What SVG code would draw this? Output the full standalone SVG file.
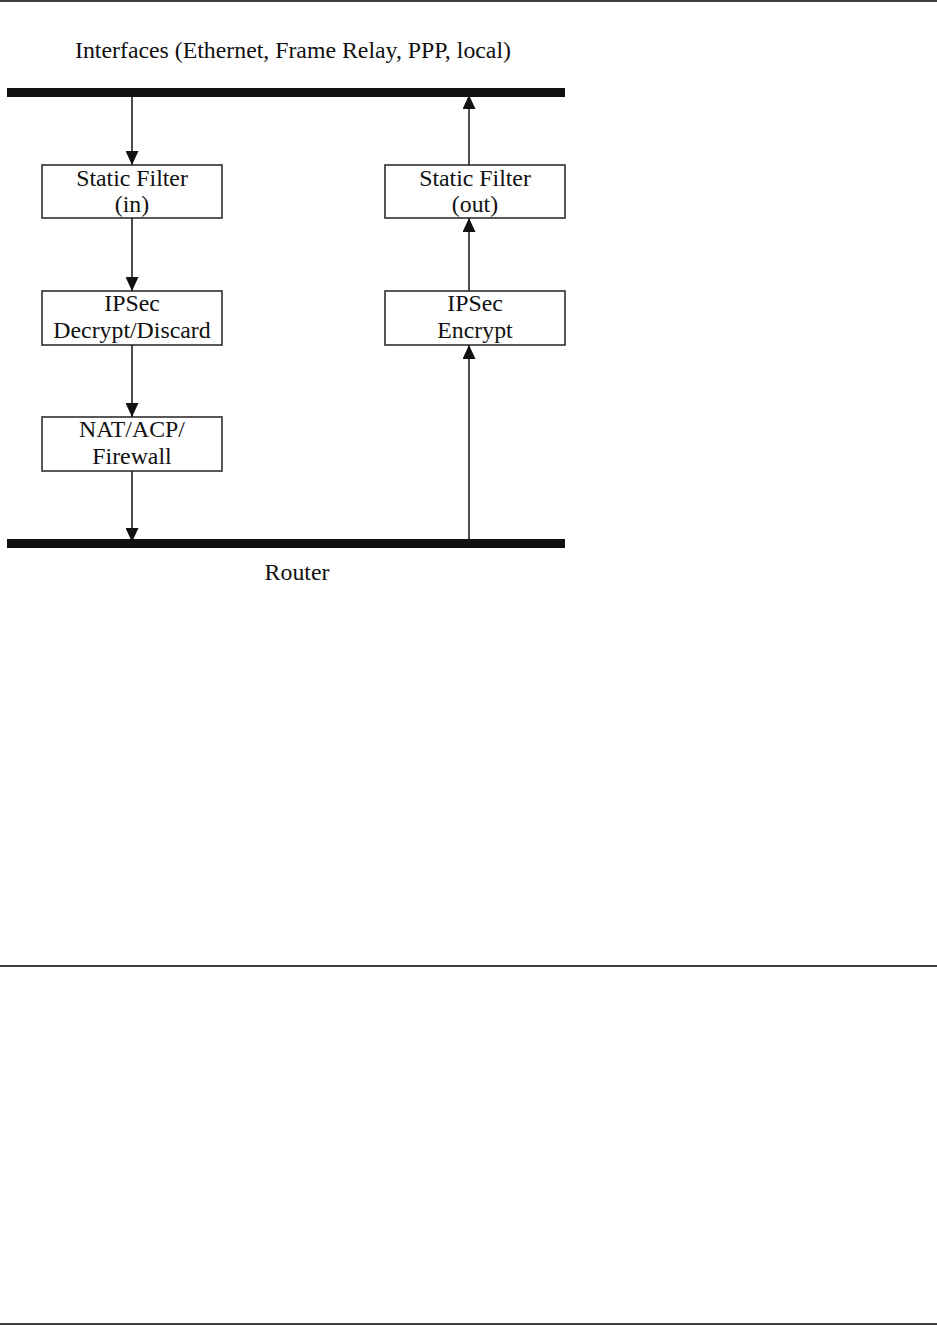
<svg xmlns="http://www.w3.org/2000/svg" width="937" height="1325" viewBox="0 0 937 1325">
<style>
text{font-family:"Liberation Serif","Times New Roman",serif;font-size:23.8px;fill:#111;text-anchor:middle}
.box{fill:#fff;stroke:#222;stroke-width:1.5}
.bar{fill:#111}
.conn{stroke:#111;stroke-width:1.5;fill:none}
.rule{stroke:#000;stroke-width:1.5}
</style>
<defs>
<marker id="ah" markerWidth="14" markerHeight="13" refX="14" refY="6.5" orient="auto" markerUnits="userSpaceOnUse" viewBox="0 0 14 13">
<path d="M0,0 L14,6.5 L0,13 z" fill="#111"/>
</marker>
</defs>
<rect width="937" height="1325" fill="#fff"/>
<line class="rule" x1="0" y1="1" x2="937" y2="1"/>
<line class="rule" x1="0" y1="966" x2="937" y2="966"/>
<line class="rule" x1="0" y1="1324" x2="937" y2="1324"/>

<g id="interfaces">
<text x="293" y="58">Interfaces (Ethernet, Frame Relay, PPP, local)</text>
<rect class="bar" x="7" y="88" width="558" height="9"/>
</g>
<g id="router">
<rect class="bar" x="7" y="539" width="558" height="9"/>
<text x="297" y="580">Router</text>
</g>

<g id="connectors">
<line class="conn" x1="132" y1="97" x2="132" y2="165" marker-end="url(#ah)"/>
<line class="conn" x1="132" y1="218" x2="132" y2="291" marker-end="url(#ah)"/>
<line class="conn" x1="132" y1="345" x2="132" y2="417" marker-end="url(#ah)"/>
<line class="conn" x1="132" y1="471" x2="132" y2="542" marker-end="url(#ah)"/>
<line class="conn" x1="469" y1="539" x2="469" y2="345" marker-end="url(#ah)"/>
<line class="conn" x1="469" y1="291" x2="469" y2="218" marker-end="url(#ah)"/>
<line class="conn" x1="469" y1="165" x2="469" y2="95" marker-end="url(#ah)"/>
</g>

<g id="static-filter-in">
<rect class="box" x="42" y="165" width="180" height="53"/>
<text x="132" y="186">Static Filter</text>
<text x="132" y="212">(in)</text>
</g>
<g id="ipsec-decrypt">
<rect class="box" x="42" y="291" width="180" height="54"/>
<text x="132" y="311">IPSec</text>
<text x="132" y="338">Decrypt/Discard</text>
</g>
<g id="nat-acp-firewall">
<rect class="box" x="42" y="417" width="180" height="54"/>
<text x="132" y="437">NAT/ACP/</text>
<text x="132" y="464">Firewall</text>
</g>
<g id="static-filter-out">
<rect class="box" x="385" y="165" width="180" height="53"/>
<text x="475" y="186">Static Filter</text>
<text x="475" y="212">(out)</text>
</g>
<g id="ipsec-encrypt">
<rect class="box" x="385" y="291" width="180" height="54"/>
<text x="475" y="311">IPSec</text>
<text x="475" y="338">Encrypt</text>
</g>
</svg>
